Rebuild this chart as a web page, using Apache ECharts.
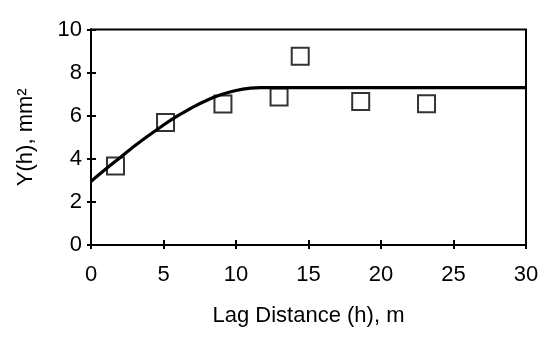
<!DOCTYPE html>
<html>
<head>
<meta charset="utf-8">
<script src="https://cdnjs.cloudflare.com/ajax/libs/echarts/6.0.0/echarts.min.js"></script>
<style>
  html, body { margin: 0; padding: 0; background: #fff; }
  #targetElement { width: 554px; height: 338px; }
</style>
</head>
<body>
<div id="targetElement"></div>
<script>
// observed points (lag h in m, semivariance in mm^2)
const lagObs = [1.69, 5.14, 9.1, 12.97, 14.43, 18.6, 23.14];
const gammaObs = [3.67, 5.69, 6.54, 6.87, 8.76, 6.66, 6.55];

// fitted model curve
const lagFit = [0, 1, 2, 3, 4, 5, 6, 7, 8, 9, 10, 11, 11.7, 30];
const gammaFit = [2.95, 3.51, 4.05, 4.59, 5.09, 5.57, 6.0, 6.39, 6.72, 6.98, 7.17, 7.28, 7.3, 7.3];

// axis ticks
const xTicks = [0, 5, 10, 15, 20, 25, 30];
const yTicks = [0, 2, 4, 6, 8, 10];

const fontFam = "'Liberation Sans', Arial, sans-serif";

function pairs(xs, ys) {
  return xs.map((x, i) => [x, ys[i]]);
}

function renderChart() {
  let targetChart = echarts.init(document.getElementById("targetElement"), null, { renderer: "canvas" });

  let axisCommon = {
    type: "value",
    axisLine: { show: true, onZero: false, lineStyle: { color: "#000", width: 2 } },
    splitLine: { show: false },
  };

  targetChart.setOption({
    animation: false,
    backgroundColor: "#fff",
    grid: {
      left: 91, right: 28, top: 29.5, bottom: 93,
      show: true, borderColor: "#000", borderWidth: 2, backgroundColor: "transparent",
    },
    xAxis: [
      Object.assign({}, axisCommon, {
        min: xTicks[0], max: xTicks[xTicks.length - 1], interval: 5,
        name: "Lag Distance (h), m",
        nameLocation: "middle", nameGap: 60,
        nameTextStyle: { color: "#000", fontSize: 22, fontFamily: fontFam },
        axisTick: { show: true, inside: false, length: 4, lineStyle: { color: "#000", width: 2 } },
        axisLabel: { color: "#000", fontSize: 22, fontFamily: fontFam, margin: 19 },
      }),
      Object.assign({}, axisCommon, {
        position: "bottom",
        min: xTicks[0], max: xTicks[xTicks.length - 1], interval: 5,
        axisTick: { show: true, inside: true, length: 5, lineStyle: { color: "#000", width: 2 } },
        axisLabel: { show: false },
      }),
    ],
    yAxis: [
      Object.assign({}, axisCommon, {
        min: yTicks[0], max: yTicks[yTicks.length - 1], interval: 2,
        name: "Y(h), mm²",
        nameLocation: "middle", nameGap: 54,
        nameTextStyle: { color: "#000", fontSize: 22, fontFamily: fontFam },
        axisTick: { show: true, inside: false, length: 4, lineStyle: { color: "#000", width: 2 } },
        axisLabel: { color: "#000", fontSize: 22, fontFamily: fontFam, margin: 9 },
      }),
      Object.assign({}, axisCommon, {
        position: "left",
        min: yTicks[0], max: yTicks[yTicks.length - 1], interval: 2,
        axisTick: { show: true, inside: true, length: 5, lineStyle: { color: "#000", width: 2 } },
        axisLabel: { show: false },
      }),
    ],
    series: [
      {
        type: "scatter",
        data: pairs(lagObs, gammaObs),
        symbol: "rect",
        symbolSize: 17,
        itemStyle: { color: "rgba(0,0,0,0)", borderColor: "#000", borderWidth: 2 },
        z: 2,
      },
      {
        type: "line",
        data: pairs(lagFit, gammaFit),
        smooth: 0.3,
        showSymbol: false,
        lineStyle: { color: "#000", width: 3.2 },
        z: 3,
      },
    ],
  });
  console.log("renderChart is OK");
}

renderChart();
</script>
</body>
</html>
